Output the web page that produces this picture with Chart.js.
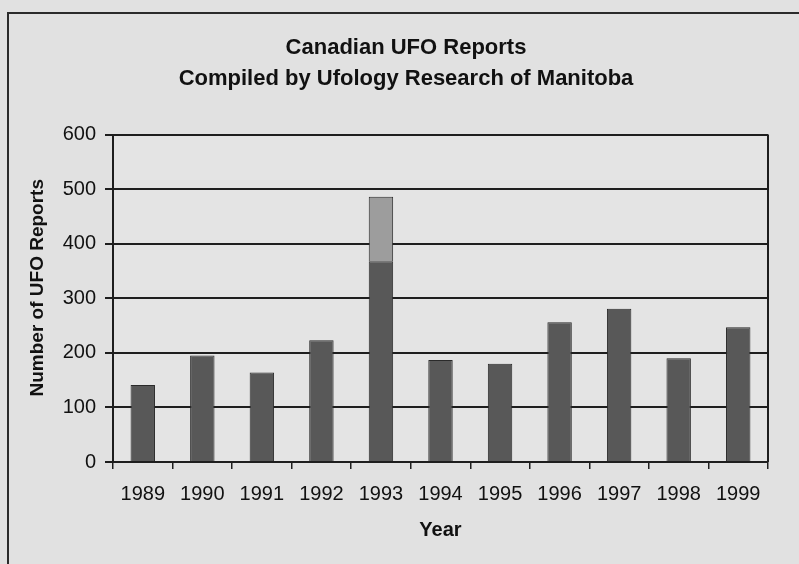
<!DOCTYPE html>
<html>
<head>
<meta charset="utf-8">
<script src="https://cdn.jsdelivr.net/npm/chart.js@4.4.1/dist/chart.umd.min.js"></script>
<style>
  html, body { margin: 0; padding: 0; background: #e1e1e1; }
  #wrap { width: 799px; height: 564px; }
</style>
</head>
<body>
<div id="wrap"><canvas id="ufoChart"></canvas></div>
<script>
// yearly report counts, 1993 split into base + additional reports
const years = ["1989", "1990", "1991", "1992", "1993", "1994", "1995", "1996", "1997", "1998", "1999"];
const reports = [141, 195, 164, 223, 368, 187, 180, 256, 281, 190, 247];
const additional = [null, null, null, null, 118, null, null, null, null, null, null];
const yTicks = [0, 100, 200, 300, 400, 500, 600];

(() => {
	"use strict";

	const ink = "#1e1e1e";
	const sans = "'Liberation Sans', Arial, sans-serif";

	// page frame + plot background + right edge of plot box
	const frame = {
		id: "frame",
		beforeDraw(chart) {
			const { ctx, chartArea: a } = chart;
			ctx.save();
			ctx.fillStyle = "#e1e1e1";
			ctx.fillRect(0, 0, chart.width, chart.height);
			ctx.fillStyle = "#e4e4e4";
			ctx.fillRect(a.left, a.top, a.right - a.left, a.bottom - a.top);
			ctx.strokeStyle = "#2b2b2b";
			ctx.lineWidth = 2;
			ctx.strokeRect(8, 13, chart.width + 20, chart.height + 20);
			ctx.restore();
		},
		beforeDatasetsDraw(chart) {
			const { ctx, chartArea: a } = chart;
			ctx.save();
			ctx.strokeStyle = ink;
			ctx.lineWidth = 2;
			ctx.beginPath();
			ctx.moveTo(a.right, a.top);
			ctx.lineTo(a.right, a.bottom);
			ctx.stroke();
			ctx.restore();
		},
	};

	const ctx = document.getElementById("ufoChart");
	// eslint-disable-next-line no-unused-vars
	const ufoChart = new Chart(ctx, {
		type: "bar",
		data: {
			labels: years,
			datasets: [
				{
					data: reports,
					backgroundColor: "#585858",
					borderColor: "#2a2a2a",
					borderWidth: 1,
				},
				{
					data: additional,
					backgroundColor: "#9d9d9d",
					borderColor: "#2a2a2a",
					borderWidth: 1,
				},
			],
		},
		plugins: [frame],
		options: {
			responsive: true,
			maintainAspectRatio: false,
			animation: false,
			datasets: {
				bar: { barPercentage: 0.41, categoryPercentage: 1.0 },
			},
			layout: { padding: { left: 44, right: 31, top: 0, bottom: 0 } },
			plugins: {
				legend: { display: false },
				tooltip: { enabled: false },
				title: {
					display: true,
					text: ["Canadian UFO Reports", "Compiled by Ufology Research of Manitoba"],
					color: "#111",
					font: { family: sans, size: 22, weight: "bold", lineHeight: 1.4 },
					padding: { top: 33, bottom: 40 },
				},
			},
			scales: {
				x: {
					stacked: true,
					afterFit(scale) { scale.height = 102; },
					grid: {
						offset: true,
						drawOnChartArea: false,
						drawTicks: true,
						tickLength: 7,
						color: ink,
						lineWidth: 1.5,
					},
					border: { display: true, color: ink, width: 2 },
					ticks: {
						color: "#111",
						padding: 13,
						maxRotation: 0,
						font: { family: sans, size: 20 },
					},
					title: {
						display: true,
						text: "Year",
						color: "#111",
						font: { family: sans, size: 20, weight: "bold", lineHeight: 1.2 },
						padding: { top: 0, bottom: 22 },
					},
				},
				y: {
					stacked: true,
					min: yTicks[0],
					max: yTicks[yTicks.length - 1],
					afterFit(scale) { scale.width = 69; },
					afterBuildTicks(scale) {
						scale.ticks = yTicks.map((v) => ({ value: v }));
					},
					grid: {
						color: ink,
						lineWidth: 2,
						tickLength: 8,
					},
					border: { display: true, color: ink, width: 2 },
					ticks: {
						color: "#111",
						padding: 9,
						font: { family: sans, size: 20 },
					},
					title: {
						display: true,
						text: "    Number of UFO Reports",
						color: "#111",
						font: { family: sans, size: 19, weight: "bold", lineHeight: 1.2 },
						padding: { top: -17.4, bottom: 0 },
					},
				},
			},
		},
	});
})();
</script>
</body>
</html>
